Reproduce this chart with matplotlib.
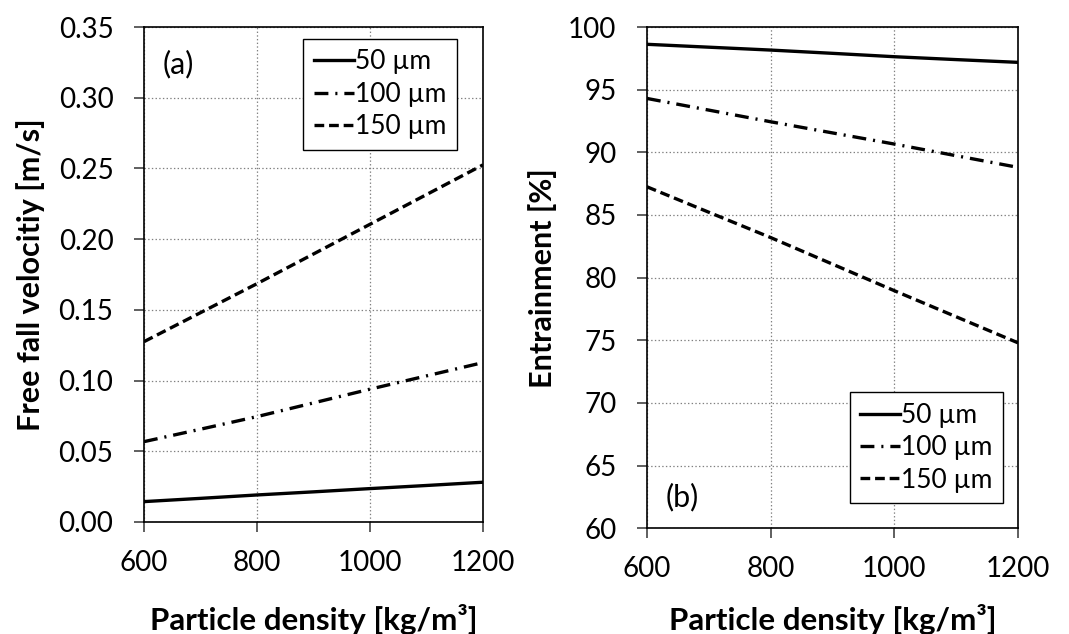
import matplotlib
matplotlib.use("Agg")
import matplotlib.pyplot as plt

plt.rcParams['font.family'] = ['Lato', 'DejaVu Sans']
plt.rcParams['lines.scale_dashes'] = False

# particle density [kg/m3]
density = [600, 700, 800, 900, 1000, 1100, 1200]

# (a) free fall velocity [m/s]
vel_50 = [0.0144, 0.0167, 0.0191, 0.0213, 0.0236, 0.0258, 0.0281]
vel_100 = [0.0568, 0.0656, 0.0745, 0.0842, 0.0939, 0.1033, 0.1127]
vel_150 = [0.1275, 0.1480, 0.1685, 0.1895, 0.2105, 0.2315, 0.2525]

# (b) entrainment [%]
ent_50 = [98.62, 98.39, 98.16, 97.90, 97.63, 97.40, 97.18]
ent_100 = [94.30, 93.37, 92.44, 91.55, 90.66, 89.73, 88.80]
ent_150 = [87.25, 85.22, 83.20, 81.08, 78.96, 76.88, 74.80]

labels = ["50 µm", "100 µm", "150 µm"]
xticks = [600, 800, 1000, 1200]

styles = [dict(ls='-'), dict(dashes=(10, 5, 1.5, 5)), dict(dashes=(7, 3.5))]

fig = plt.figure(figsize=(10.69, 6.34), dpi=100)
ax1 = fig.add_axes([0.1347, 0.1767, 0.3171, 0.7807])
ax2 = fig.add_axes([0.6052, 0.1667, 0.3471, 0.7907])

def style_axes(ax):
    ax.set_xlim(600, 1200)
    ax.set_xticks(xticks)
    ax.grid(True, color='#808080', ls=':', lw=0.9)
    ax.set_axisbelow(True)
    for s in ax.spines.values():
        s.set_linewidth(1.2)
        s.set_color('black')
    ax.tick_params(direction='out', length=7, width=1.2, labelsize=20, color='#444444')
    ax.tick_params(axis='y', pad=15)
    ax.tick_params(axis='x', pad=13)

def add_legend(ax, loc, anchor):
    leg = ax.legend(loc=loc, bbox_to_anchor=anchor, borderaxespad=0,
                    fontsize=19, handlelength=1.5, handletextpad=0.05, fancybox=False,
                    framealpha=1, edgecolor='black', borderpad=0.4, labelspacing=0.28)
    leg.get_frame().set_linewidth(1.0)

for y, lab, st in zip([vel_50, vel_100, vel_150], labels, styles):
    ax1.plot(density, y, color='black', lw=2.4, label=lab, **st)
ax1.set_ylim(0, 0.35)
ax1.set_yticks([0, 0.05, 0.10, 0.15, 0.20, 0.25, 0.30, 0.35])
ax1.yaxis.set_major_formatter(matplotlib.ticker.FormatStrFormatter('%.2f'))
style_axes(ax1)
ax1.set_xlabel("Particle density [kg/m³]", fontsize=22.5, fontweight='bold', labelpad=20)
ax1.set_ylabel("Free fall velocitiy [m/s]", fontsize=22, fontweight='bold', labelpad=10)
ax1.text(0.055, 0.925, "(a)", transform=ax1.transAxes, fontsize=22, va='center')
add_legend(ax1, 'upper right', (0.923, 0.976))

for y, lab, st in zip([ent_50, ent_100, ent_150], labels, styles):
    ax2.plot(density, y, color='black', lw=2.4, label=lab, **st)
ax2.set_ylim(60, 100)
ax2.set_yticks(range(60, 101, 5))
style_axes(ax2)
ax2.set_xlabel("Particle density [kg/m³]", fontsize=22.5, fontweight='bold', labelpad=16)
ax2.set_ylabel("Entrainment [%]", fontsize=22, fontweight='bold', labelpad=8)
ax2.text(0.05, 0.063, "(b)", transform=ax2.transAxes, fontsize=22, va='center')
add_legend(ax2, 'lower right', (0.96, 0.05))

fig.savefig("out.png", dpi=100)
